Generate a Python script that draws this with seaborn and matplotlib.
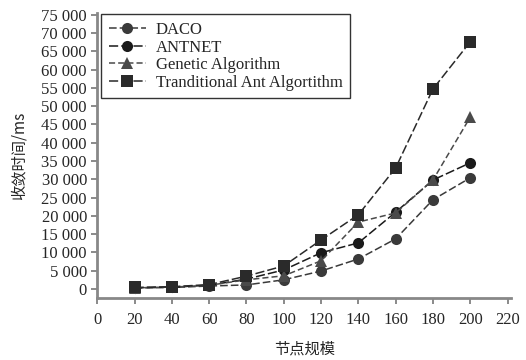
import matplotlib
matplotlib.use('Agg')
import pandas as pd
import matplotlib.pyplot as plt
import seaborn as sns
import numpy as np
from matplotlib.ticker import FuncFormatter

nodes = [20, 40, 60, 80, 100, 120, 140, 160, 180, 200]
daco = [300, 400, 800, 1100, 2500, 4900, 8200, 13700, 24400, 30400]
antnet = [300, 500, 1000, 2700, 5200, 9900, 12600, 21000, 29800, 34500]
genetic = [300, 500, 1000, 2500, 3600, 7700, 18300, 20800, 29800, 47000]
tradant = [400, 600, 1200, 3500, 6300, 13400, 20300, 33100, 54700, 67600]
names = ['DACO', 'ANTNET', 'Genetic Algorithm', 'Tranditional Ant Algortithm']

df = pd.DataFrame({
    'nodes': nodes * 4,
    'time': daco + antnet + genetic + tradant,
    'algo': np.repeat(names, len(nodes)),
})

sns.set_style('ticks')
plt.rcParams['font.family'] = ['Liberation Serif', 'Noto Sans CJK SC']

fig = plt.figure(figsize=(5.26, 3.6), dpi=100)
ax = fig.add_axes([0.185, 0.172, 0.787, 0.792])

palette = {names[0]: '#3a3a3a', names[1]: '#1a1a1a', names[2]: '#4a4a4a', names[3]: '#2a2a2a'}
markers = {names[0]: 'o', names[1]: 'o', names[2]: '^', names[3]: 's'}
dashes = {names[0]: (5, 2), names[1]: (6, 2), names[2]: (4, 2), names[3]: (6, 2)}

sns.lineplot(data=df, x='nodes', y='time', hue='algo', style='algo',
             palette=palette, markers=markers, dashes=dashes,
             markersize=8, markeredgewidth=0, linewidth=1.1, ax=ax)

ax.set_xlim(0, 222)
ax.set_ylim(-2500, 75500)
ax.set_xticks(range(0, 221, 20))
ax.set_yticks(range(0, 75001, 5000))
ax.yaxis.set_major_formatter(FuncFormatter(lambda v, p: f'{int(v):,}'.replace(',', ' ')))
ax.tick_params(labelsize=12, length=4, width=1.2, color='#777777')
ax.tick_params(axis='x', pad=6)
sns.despine(ax=ax)
for s in ['left', 'bottom']:
    ax.spines[s].set_color('#888888')
    ax.spines[s].set_linewidth(2)

ax.set_xlabel('节点规模', fontsize=11, family=['Noto Sans CJK SC'], labelpad=9)
ax.set_ylabel('收敛时间/ms', fontsize=11, family=['Noto Sans CJK SC', 'Liberation Serif'], labelpad=10)

leg = ax.legend(loc='upper left', bbox_to_anchor=(0.01, 0.995), borderaxespad=0,
                fontsize=12, frameon=True, fancybox=False, edgecolor='black',
                handlelength=2.2, labelspacing=0.1, borderpad=0.45, handletextpad=0.6)
leg.get_frame().set_linewidth(1.0)

fig.savefig('out.png', dpi=100)
